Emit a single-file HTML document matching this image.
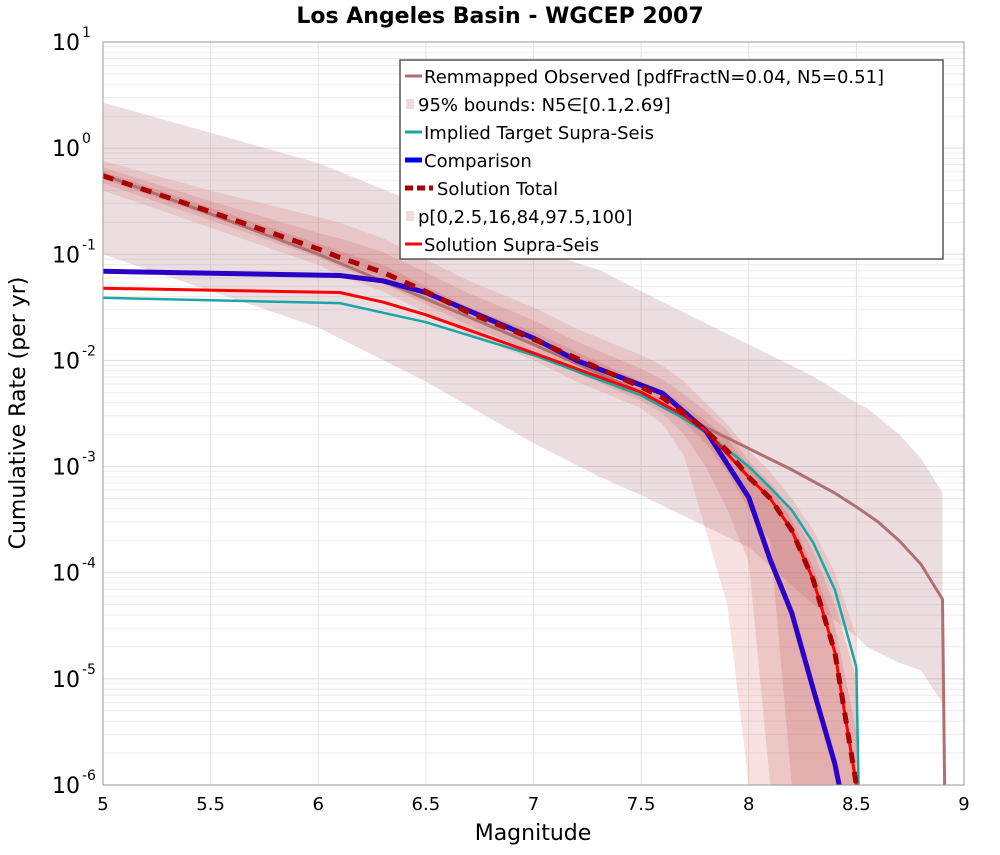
<!DOCTYPE html>
<html><head><meta charset="utf-8"><style>
body{margin:0;background:#fff;font-family:"Liberation Sans","DejaVu Sans",sans-serif}
svg text{font-family:"DejaVu Sans","Liberation Sans",sans-serif}
</style></head><body>
<svg id="chart" width="1000" height="850" xmlns="http://www.w3.org/2000/svg">
<rect width="1000" height="850" fill="#fff"/>
<text x="500" y="23" text-anchor="middle" font-size="22" font-weight="bold">Los Angeles Basin - WGCEP 2007</text>
<g id="grid"></g><g id="bands"></g><g id="lines"></g>
<rect x="103" y="42" width="861" height="743" fill="none" stroke="#999" stroke-width="1"/>
<g id="ticks"></g>
<text x="533" y="840" text-anchor="middle" font-size="22">Magnitude</text>
<text transform="translate(25,413) rotate(-90)" text-anchor="middle" font-size="22">Cumulative Rate (per yr)</text>
<g id="legend"></g>
</svg>
<script>
// data (log10 of rate)
const obsM=[5,5.5,6,6.5,7,7.5,7.8,8,8.2,8.4,8.5,8.6,8.7,8.8,8.9,8.91];
const obsV=[-0.25,-0.62,-1.0,-1.42,-1.85,-2.3,-2.63,-2.83,-3.03,-3.25,-3.38,-3.52,-3.7,-3.92,-4.25,-6];
const boundM=[5,6,6.5,7,7.31,7.5,8,8.3,8.5,8.55,8.7,8.8,8.9];
const boundUp=[0.43,-0.14,-0.55,-0.95,-1.15,-1.35,-1.85,-2.15,-2.4,-2.45,-2.7,-2.92,-3.25];
const boundLo=[-1.0,-1.69,-2.2,-2.78,-3.1,-3.27,-3.76,-4.3,-4.6,-4.7,-4.85,-4.92,-5.23];
const tgtM=[5,6.1,6.3,6.5,7,7.5,7.7,7.8,8,8.1,8.2,8.3,8.4,8.5,8.51];
const tgtV=[-1.41,-1.46,-1.55,-1.64,-1.95,-2.33,-2.55,-2.68,-3.0,-3.2,-3.41,-3.72,-4.16,-4.89,-6];
const cmpM=[5,6.1,6.3,6.5,7,7.2,7.6,7.8,8,8.1,8.2,8.3,8.4,8.42];
const cmpV=[-1.16,-1.2,-1.25,-1.36,-1.79,-2.0,-2.31,-2.66,-3.29,-3.88,-4.38,-5.1,-5.8,-6];
const solM=[5,5.5,6,6.1,6.3,6.5,6.7,7,7.2,7.5,7.6,7.7,7.8,7.9,8,8.1,8.2,8.3,8.4,8.5];
const totV=[-0.26,-0.6,-0.95,-1.03,-1.17,-1.35,-1.55,-1.8,-1.98,-2.25,-2.35,-2.5,-2.66,-2.85,-3.1,-3.3,-3.6,-4.07,-4.75,-6];
const supM=[5,6.1,6.3,6.5,7,7.5,7.7,7.8,8,8.1,8.2,8.3,8.4,8.5];
const supV=[-1.32,-1.36,-1.45,-1.57,-1.93,-2.3,-2.52,-2.66,-3.1,-3.3,-3.6,-4.07,-4.75,-6];
const p0=[-0.4,-0.75,-1.1,-1.2,-1.35,-1.55,-1.75,-2.0,-2.2,-2.45,-2.6,-2.9,-3.6,-4.3,-6,-6,-6,-6,-6,-6];
const p100=[-0.12,-0.4,-0.65,-0.7,-0.85,-1.05,-1.25,-1.5,-1.7,-1.95,-2.05,-2.2,-2.4,-2.6,-2.85,-3.05,-3.3,-3.6,-4.0,-4.6];
const p2=[-0.33,-0.68,-1.03,-1.12,-1.28,-1.47,-1.67,-1.92,-2.12,-2.38,-2.5,-2.7,-3.0,-3.4,-3.9,-6,-6,-6,-6,-6];
const p97=[-0.18,-0.5,-0.8,-0.85,-0.98,-1.17,-1.37,-1.62,-1.82,-2.08,-2.18,-2.32,-2.48,-2.66,-2.95,-3.15,-3.42,-3.8,-4.3,-5.0];
const p16=[-0.29,-0.64,-0.99,-1.07,-1.22,-1.4,-1.6,-1.86,-2.04,-2.3,-2.42,-2.58,-2.78,-3.05,-3.4,-3.7,-6,-6,-6,-6];
const p84=[-0.22,-0.56,-0.9,-0.97,-1.1,-1.3,-1.5,-1.73,-1.92,-2.2,-2.28,-2.42,-2.57,-2.74,-3.0,-3.2,-3.5,-3.95,-4.5,-5.5];
const xTicks=[5,5.5,6,6.5,7,7.5,8,8.5,9];
const yTicks=[1,0,-1,-2,-3,-4,-5,-6];

const NS="http://www.w3.org/2000/svg";
const X0=103,X1=964,Y0=42,Y1=785;
const xs=m=>X0+(m-5)/4*(X1-X0);
const ys=l=>Y0+(1-Math.max(l,-6))/7*(Y1-Y0);
function mk(tag,attrs,parent){const e=document.createElementNS(NS,tag);for(const k in attrs)e.setAttribute(k,attrs[k]);parent.appendChild(e);return e;}
const grid=document.getElementById('grid'),bands=document.getElementById('bands'),lines=document.getElementById('lines'),ticks=document.getElementById('ticks'),legend=document.getElementById('legend');
for(let d=-6;d<1;d++)for(let k=1;k<10;k++){const y=ys(d+Math.log10(k));
 const g=mk('line',{x1:X0,x2:X1,y1:y,y2:y,stroke:k==1?'#ddd':'#ebebeb','stroke-width':1},grid);
 }
xTicks.forEach(m=>{const g=mk('line',{x1:xs(m),x2:xs(m),y1:Y0,y2:Y1,stroke:'#e3e3e3','stroke-width':1},grid);
 
 const t=mk('text',{x:xs(m),y:810,'text-anchor':'middle','font-size':18},ticks);t.textContent=String(m);
 });
yTicks.forEach(l=>{const t=mk('text',{x:80,y:ys(l)+8,'text-anchor':'end','font-size':22},ticks);t.textContent='10';
 
 const s=mk('text',{x:82,y:ys(l)-5,'font-size':14},ticks);s.textContent=String(l);
 });
function band(M,lo,hi,fill,op,name){let d='';M.forEach((m,i)=>d+=(i?'L':'M')+xs(m)+','+ys(hi[i]));
 for(let i=M.length-1;i>=0;i--)d+='L'+xs(M[i])+','+ys(lo[i]);
 const p=mk('path',{d:d+'Z',fill:fill,'fill-opacity':op},bands);}
band(boundM,boundLo,boundUp,'#b47d82',0.25,'band-95-bounds');
band(solM,p0,p100,'#d86a6a',0.2,'band-p0-p100');
band(solM,p2,p97,'#c85a5a',0.2,'band-p2.5-p97.5');
band(solM,p16,p84,'#c05050',0.2,'band-p16-p84');
function line(M,V,col,w,dash,name){const pts=M.map((m,i)=>xs(m)+','+ys(V[i])).join(' ');
 const a={points:pts,fill:'none',stroke:col,'stroke-width':w,'stroke-linejoin':'round'};if(dash)a['stroke-dasharray']=dash;
 const p=mk('polyline',a,lines);}
line(obsM,obsV,'#b07070',3,null,'remapped-observed-line');
line(tgtM,tgtV,'#1aa6a6',2.5,null,'implied-target-line');
line(cmpM,cmpV,'#2a00c8',5,null,'comparison-line');
line(supM,supV,'#ff0000',3,null,'solution-supra-seis-line');
line(solM,totV,'#aa0000',5,'11,9','solution-total-line');
// legend
const lb=mk('rect',{x:400,y:60,width:543,height:199,fill:'#fff',stroke:'#555','stroke-width':1.5},legend);

const items=[['Remmapped Observed [pdfFractN=0.04, N5=0.51]','line','#b07070',3],['95% bounds: N5∈[0.1,2.69]','box','#e8dcdd'],['Implied Target Supra-Seis','line','#1aa6a6',3],['Comparison','line','#0000ee',5],['Solution Total','dash','#aa0000',5],['p[0,2.5,16,84,97.5,100]','box','#f0dcdc'],['Solution Supra-Seis','line','#ff0000',3]];
items.forEach((it,i)=>{const y=76+i*28;const g=mk('g',{},legend);
 let tx=424;
 if(it[1]=='line')mk('line',{x1:405,x2:422,y1:y,y2:y,stroke:it[2],'stroke-width':it[3]},g);
 else if(it[1]=='box')mk('rect',{x:406,y:y-5,width:8,height:10,fill:it[2]},g),tx=418;
 else{mk('line',{x1:405,x2:433,y1:y,y2:y,stroke:it[2],'stroke-width':5,'stroke-dasharray':'8,4'},g);tx=437;}
 const t=mk('text',{x:tx,y:y+7,'font-size':18},g);t.textContent=it[0];});
</script>
</body></html>
